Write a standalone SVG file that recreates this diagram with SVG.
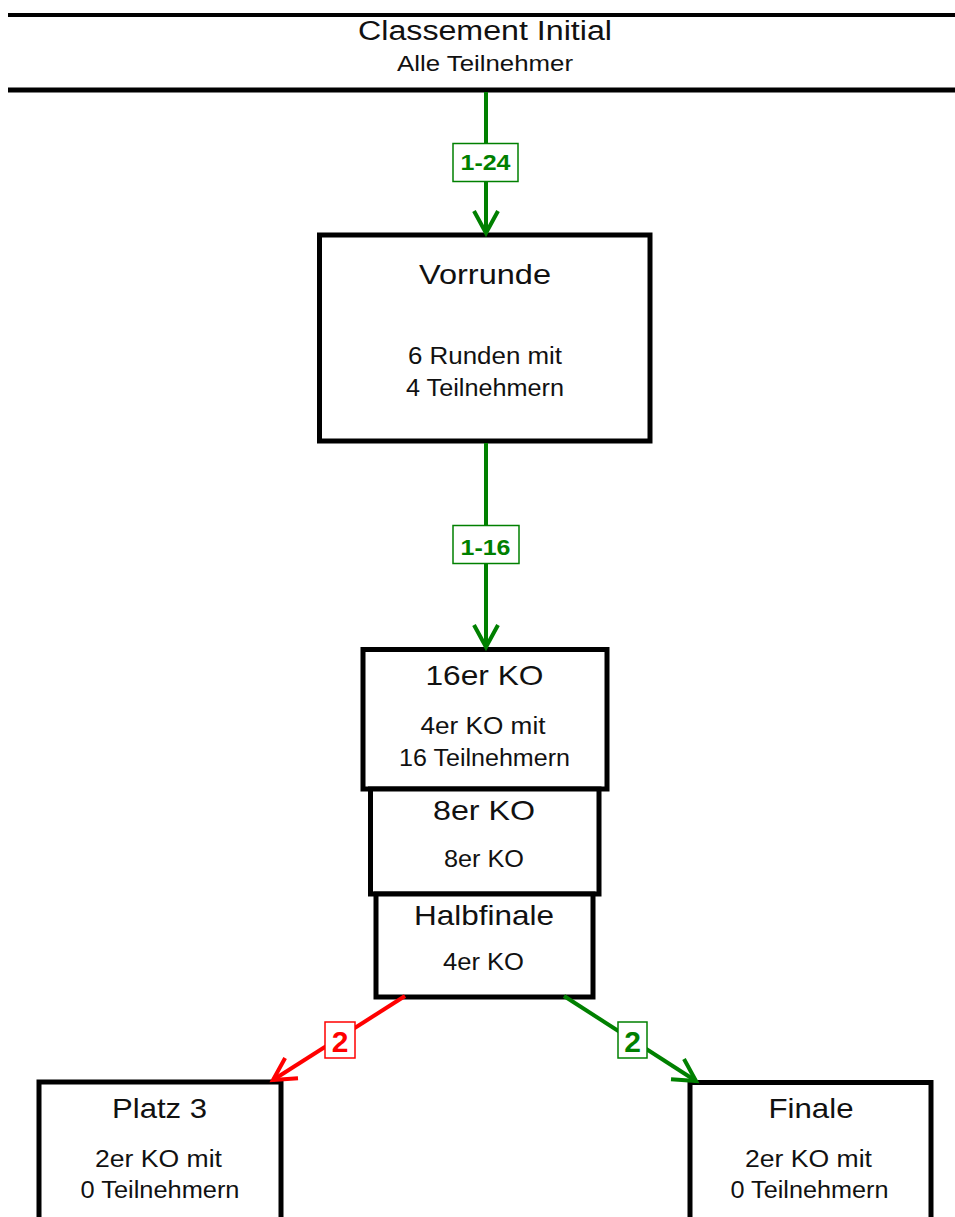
<svg xmlns="http://www.w3.org/2000/svg" width="955" height="1217" viewBox="0 0 955 1217">
<style>
.box{fill:#fff;stroke:#000;stroke-width:5}
.t{font-family:"Liberation Sans",Arial,sans-serif;fill:#111;text-anchor:middle}
.h{font-size:28px}
.s{font-size:23px}
.g{stroke:#008000;stroke-width:4;fill:none}
.r{stroke:#ff0000;stroke-width:4;fill:none}
.lg{fill:#fff;stroke:#008000;stroke-width:1.5}
.lr{fill:#fff;stroke:#ff0000;stroke-width:1.5}
.lt{font-family:"Liberation Sans",Arial,sans-serif;font-weight:bold;text-anchor:middle}
</style>
<defs>
<marker id="ag" markerUnits="userSpaceOnUse" markerWidth="40" markerHeight="40" refX="0" refY="0" viewBox="-30 -20 40 40" orient="auto" overflow="visible">
<path d="M-22,-12 L0,0 L-22,12" fill="none" stroke="#008000" stroke-width="4"/>
</marker>
<marker id="ar" markerUnits="userSpaceOnUse" markerWidth="40" markerHeight="40" refX="0" refY="0" viewBox="-30 -20 40 40" orient="auto" overflow="visible">
<path d="M-22,-12 L0,0 L-22,12" fill="none" stroke="#ff0000" stroke-width="4"/>
</marker>
</defs>
<rect x="0" y="0" width="955" height="1217" fill="#fff"/>

<g id="classement-initial">
<line x1="8" y1="15" x2="955" y2="15" stroke="#000" stroke-width="4"/>
<line x1="8" y1="90" x2="955" y2="90" stroke="#000" stroke-width="5"/>
<text class="t" x="485" y="39.5" font-size="27" textLength="254" lengthAdjust="spacingAndGlyphs">Classement Initial</text>
<text class="t" x="485" y="71" font-size="22" textLength="176" lengthAdjust="spacingAndGlyphs">Alle Teilnehmer</text>
</g>

<g id="vorrunde">
<rect class="box" x="319.5" y="235" width="330.5" height="206"/>
<text class="t h" x="485" y="284" textLength="132" lengthAdjust="spacingAndGlyphs">Vorrunde</text>
<text class="t s" x="485" y="364" textLength="154" lengthAdjust="spacingAndGlyphs">6 Runden mit</text>
<text class="t s" x="485" y="396" textLength="158" lengthAdjust="spacingAndGlyphs">4 Teilnehmern</text>
</g>

<g id="ko16">
<rect class="box" x="363" y="649.5" width="244" height="139.5"/>
<text class="t h" x="484.5" y="685" textLength="118" lengthAdjust="spacingAndGlyphs">16er KO</text>
<text class="t s" x="483" y="734" textLength="125" lengthAdjust="spacingAndGlyphs">4er KO mit</text>
<text class="t s" x="484.5" y="766" textLength="171" lengthAdjust="spacingAndGlyphs">16 Teilnehmern</text>
</g>

<g id="ko8">
<rect class="box" x="370.5" y="789" width="228.5" height="105"/>
<text class="t h" x="484" y="820" textLength="102" lengthAdjust="spacingAndGlyphs">8er KO</text>
<text class="t s" x="484" y="867" textLength="80" lengthAdjust="spacingAndGlyphs">8er KO</text>
</g>

<g id="halbfinale">
<rect class="box" x="376" y="894" width="217" height="103"/>
<text class="t h" x="484" y="925" textLength="140" lengthAdjust="spacingAndGlyphs">Halbfinale</text>
<text class="t s" x="483.5" y="970" textLength="81" lengthAdjust="spacingAndGlyphs">4er KO</text>
</g>

<g id="platz3">
<rect class="box" x="39" y="1082" width="242" height="200"/>
<text class="t h" x="159.5" y="1118" textLength="95" lengthAdjust="spacingAndGlyphs">Platz 3</text>
<text class="t s" x="158.5" y="1167" textLength="127" lengthAdjust="spacingAndGlyphs">2er KO mit</text>
<text class="t s" x="160" y="1198" textLength="159" lengthAdjust="spacingAndGlyphs">0 Teilnehmern</text>
</g>

<g id="finale">
<rect class="box" x="690" y="1082.5" width="241" height="200"/>
<text class="t h" x="811" y="1118" textLength="85" lengthAdjust="spacingAndGlyphs">Finale</text>
<text class="t s" x="808.5" y="1167" textLength="127" lengthAdjust="spacingAndGlyphs">2er KO mit</text>
<text class="t s" x="809.5" y="1198" textLength="158" lengthAdjust="spacingAndGlyphs">0 Teilnehmern</text>
</g>

<g id="connectors">
<line class="g" x1="486" y1="92" x2="486" y2="233" marker-end="url(#ag)"/>
<rect class="lg" x="453" y="143.5" width="65" height="38"/>
<text class="lt" x="485.5" y="170" font-size="22" fill="#008000" textLength="50" lengthAdjust="spacingAndGlyphs">1-24</text>

<line class="g" x1="486" y1="443" x2="486" y2="647" marker-end="url(#ag)"/>
<rect class="lg" x="453" y="525.5" width="66" height="38"/>
<text class="lt" x="485.5" y="555" font-size="22" fill="#008000" textLength="50" lengthAdjust="spacingAndGlyphs">1-16</text>

<line class="r" x1="405" y1="996" x2="273" y2="1080" marker-end="url(#ar)"/>
<rect class="lr" x="325" y="1022" width="30" height="36"/>
<text class="lt" x="340" y="1051.5" font-size="30" fill="#ff0000" font-weight="normal">2</text>

<line class="g" x1="564" y1="996" x2="696" y2="1081" marker-end="url(#ag)"/>
<rect class="lg" x="618" y="1022" width="29" height="36"/>
<text class="lt" x="632.5" y="1051.5" font-size="30" fill="#008000" font-weight="normal">2</text>
</g>
</svg>
